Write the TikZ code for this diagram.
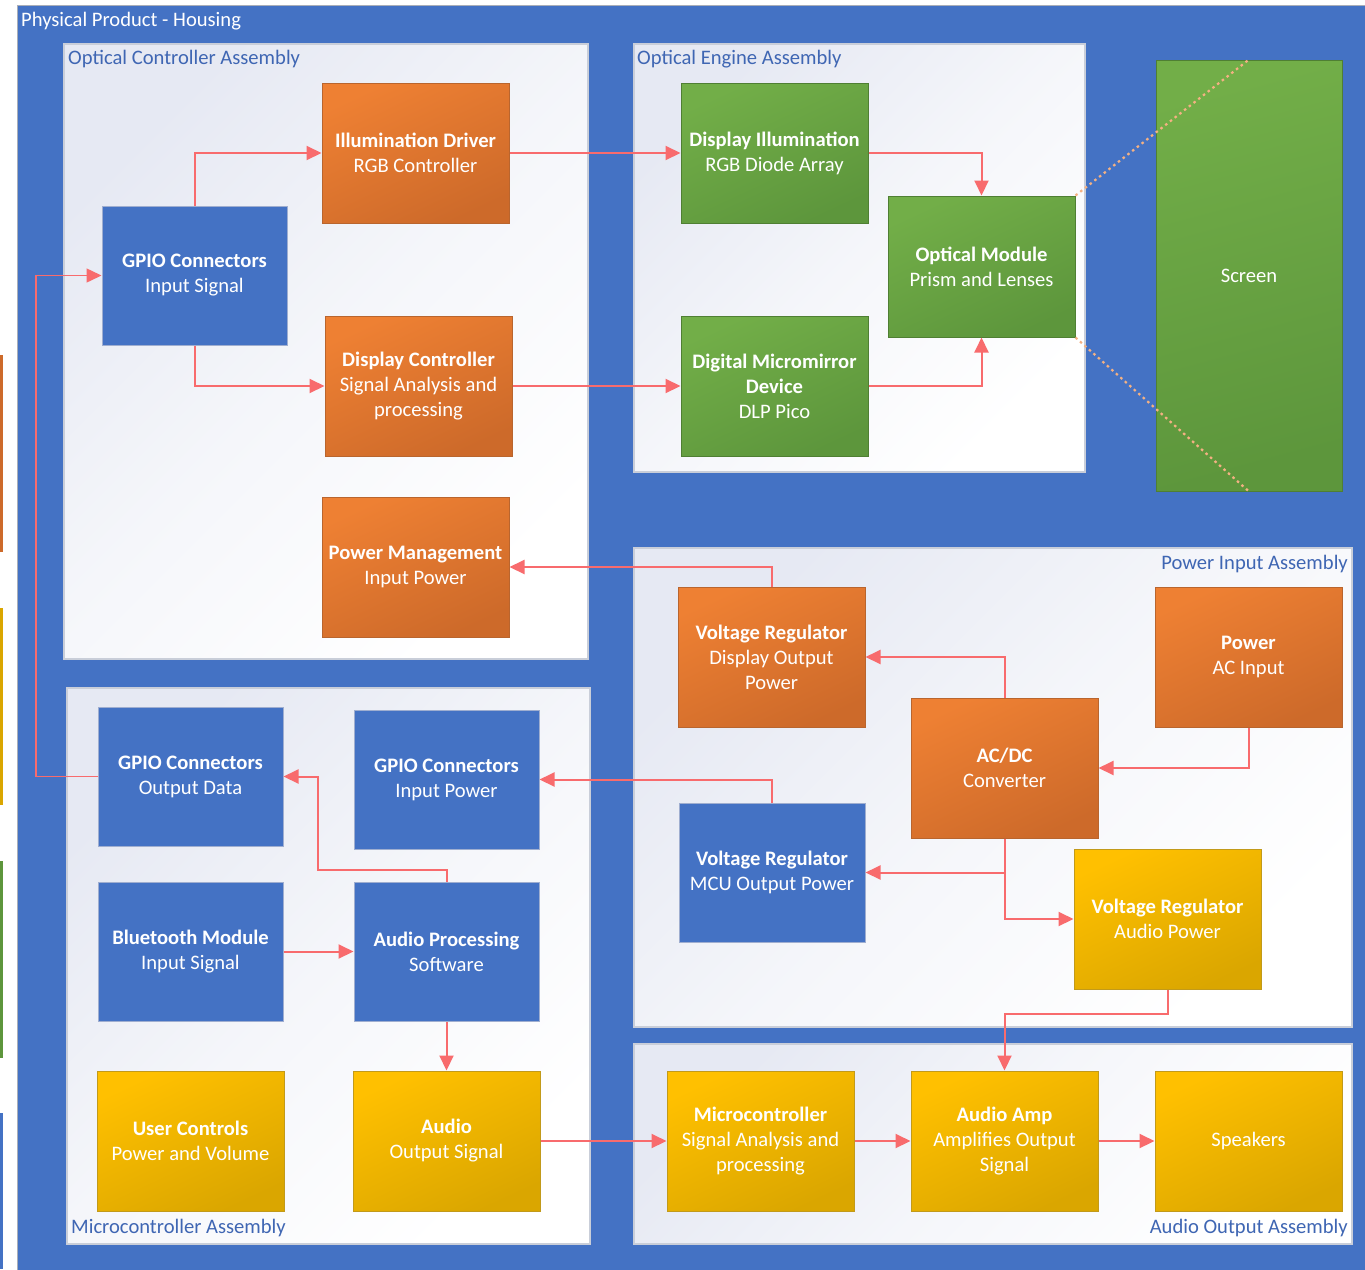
\documentclass[tikz,border=0pt]{standalone}
\usepackage{fontspec}
\setmainfont{Carlito}
\usetikzlibrary{arrows.meta}

\definecolor{housing}{HTML}{4472C4}
\definecolor{housingline}{HTML}{A9AEB8}
\definecolor{paneltop}{HTML}{E6E9F3}
\definecolor{panelline}{HTML}{C9CED9}
\definecolor{paneltitle}{HTML}{3F66B3}
\definecolor{orangetop}{HTML}{EE8033}
\definecolor{orangebot}{HTML}{CD6A2A}
\definecolor{orangeline}{HTML}{B9652E}
\definecolor{greentop}{HTML}{72AE48}
\definecolor{greenbot}{HTML}{5D963C}
\definecolor{greenline}{HTML}{4F7F33}
\definecolor{yellowtop}{HTML}{FFC000}
\definecolor{yellowbot}{HTML}{DAA600}
\definecolor{yellowline}{HTML}{C29A1A}
\definecolor{blueblk}{HTML}{4472C4}
\definecolor{blueline}{HTML}{9FAED0}
\definecolor{sigred}{HTML}{F86B6D}
\definecolor{beam}{HTML}{F4B183}

\newcommand{\boxfont}{\fontsize{20.6}{25}\selectfont}

\tikzset{
  panel/.style={draw=panelline, line width=1.5pt, top color=paneltop, bottom color=white, middle color=white!60!paneltop, shading angle=45},
  paneltext/.style={text=paneltitle, font=\boxfont, inner sep=0pt},
  blk/.style={line width=1pt, text=white, align=center, font=\boxfont,
    minimum width=187pt, minimum height=140pt, inner sep=2pt},
  orangeblk/.style={blk, draw=orangeline, top color=orangetop, bottom color=orangebot, shading angle=25},
  greenblk/.style={blk, draw=greenline, top color=greentop, bottom color=greenbot, shading angle=25},
  yellowblk/.style={blk, draw=yellowline, top color=yellowtop, bottom color=yellowbot, shading angle=25},
  blueblk/.style={blk, draw=blueline, fill=blueblk, minimum width=185pt, minimum height=139pt},
  sig/.style={draw=sigred, line width=2pt, -{Triangle[length=15pt,width=14pt]}},
  beamline/.style={draw=beam, line width=2.2pt, dash pattern=on 2.5pt off 3.5pt}
}

\begin{document}
\begin{tikzpicture}[x=1pt,y=-1pt]
\useasboundingbox (0,0) rectangle (1365,1269);

% legend strips at the left edge
\fill[orangebot] (0,355) rectangle (3,552);
\fill[yellowbot] (0,608) rectangle (3,805);
\fill[greenbot] (0,861) rectangle (3,1058);
\fill[housing] (0,1113) rectangle (3,1269);

% housing
\filldraw[fill=housing, draw=housingline, line width=1pt] (17,5) rectangle (1370,1275);
\node[text=white, font=\boxfont, inner sep=0pt, anchor=west] (housingtitle) at (21,21) {Physical Product - Housing};

% assemblies
\shade[panel] (64,44) rectangle (588,659);
\node[paneltext, anchor=west] (octitle) at (68,59.5) {Optical Controller Assembly};
\shade[panel] (634,44) rectangle (1085,472);
\node[paneltext, anchor=west] (oetitle) at (637,59.5) {Optical Engine Assembly};
\shade[panel] (634,548) rectangle (1352,1027);
\node[paneltext, anchor=east] (pititle) at (1348,563.5) {Power Input Assembly};
\shade[panel] (67,688) rectangle (590,1244);
\node[paneltext, anchor=west] (mctitle) at (71,1227.5) {Microcontroller Assembly};
\shade[panel] (634,1044) rectangle (1352,1244);
\node[paneltext, anchor=east] (aotitle) at (1348,1227.5) {Audio Output Assembly};

% optical controller
\node[orangeblk] (illum) at (415.5,153) {\textbf{Illumination Driver}\\RGB Controller};
\node[blueblk] (gpioin) at (194.5,275.5) {\textbf{GPIO Connectors}\\Input Signal};
\node[orangeblk] (dispctl) at (418.5,386) {\textbf{Display Controller}\\Signal Analysis and\\processing};
\node[orangeblk] (pwrmgmt) at (415.5,567) {\textbf{Power Management}\\Input Power};

% optical engine
\node[greenblk] (dispill) at (774.5,153) {\textbf{Display Illumination}\\RGB Diode Array};
\node[greenblk, minimum height=141pt] (optmod) at (981.5,266.5) {\textbf{Optical Module}\\Prism and Lenses};
\node[greenblk] (dmd) at (774.5,386) {\textbf{Digital Micromirror}\\\textbf{Device}\\DLP Pico};

% screen
\node[greenblk, minimum width=186pt, minimum height=431pt, shading angle=15] (screen) at (1249,275.5) {Screen};

% power input
\node[orangeblk] (vrdisp) at (771.5,657) {\textbf{Voltage Regulator}\\Display Output\\Power};
\node[orangeblk] (pwrac) at (1248.5,657) {\textbf{Power}\\AC Input};
\node[orangeblk] (acdc) at (1004.5,768) {\textbf{AC/DC}\\Converter};
\node[blueblk, minimum width=186pt] (vrmcu) at (772,872.5) {\textbf{Voltage Regulator}\\MCU Output Power};
\node[yellowblk] (vraudio) at (1167.5,919) {\textbf{Voltage Regulator}\\Audio Power};

% microcontroller
\node[blueblk] (gpioout) at (190.5,776.5) {\textbf{GPIO Connectors}\\Output Data};
\node[blueblk] (gpioinpwr) at (446.5,779.5) {\textbf{GPIO Connectors}\\Input Power};
\node[blueblk] (bt) at (190.5,951.5) {\textbf{Bluetooth Module}\\Input Signal};
\node[blueblk] (audproc) at (446.5,951.5) {\textbf{Audio Processing}\\Software};
\node[yellowblk] (userctl) at (190.5,1141) {\textbf{User Controls}\\Power and Volume};
\node[yellowblk] (audout) at (446.5,1141) {\textbf{Audio}\\Output Signal};

% audio output
\node[yellowblk] (mcu) at (760.5,1141) {\textbf{Microcontroller}\\Signal Analysis and\\processing};
\node[yellowblk] (amp) at (1004.5,1141) {\textbf{Audio Amp}\\Amplifies Output\\Signal};
\node[yellowblk] (speakers) at (1248.5,1141) {Speakers};

% light path to the screen
\draw[beamline] (optmod.north east) -- (screen.north);
\draw[beamline] (optmod.south east) -- (screen.south);

% routing points
\coordinate (audjoin) at (1167.5,1014);
\coordinate (procturn) at (318,870);
\coordinate (loopturn) at (36,776.5);

% signal and power connectors
\draw[sig] (gpioin.north) |- (illum.west);
\draw[sig] (gpioin.south) |- (dispctl.west);
\draw[sig] (illum.east) -- (dispill.west);
\draw[sig] (dispctl.east) -- (dmd.west);
\draw[sig] (dispill.east) -| (optmod.north);
\draw[sig] (dmd.east) -| (optmod.south);
\draw[sig] (vrdisp.north) |- (pwrmgmt.east);
\draw[sig] (acdc.north) |- (vrdisp.east);
\draw[sig] (pwrac.south) |- (acdc.east);
\draw[sig] (acdc.south) |- (vrmcu.east);
\draw[sig] (acdc.south) |- (vraudio.west);
\draw[sig] (vrmcu.north) |- (gpioinpwr.east);
\draw[sig] (vraudio.south) -- (audjoin) -| (amp.north);
\draw[sig] (audproc.north) |- (procturn) |- (gpioout.east);
\draw[sig] (bt.east) -- (audproc.west);
\draw[sig] (audproc.south) -- (audout.north);
\draw[sig] (audout.east) -- (mcu.west);
\draw[sig] (mcu.east) -- (amp.west);
\draw[sig] (amp.east) -- (speakers.west);
\draw[sig, line width=1.5pt] (gpioout.west) -- (loopturn) |- (gpioin.west);
\end{tikzpicture}
\end{document}
